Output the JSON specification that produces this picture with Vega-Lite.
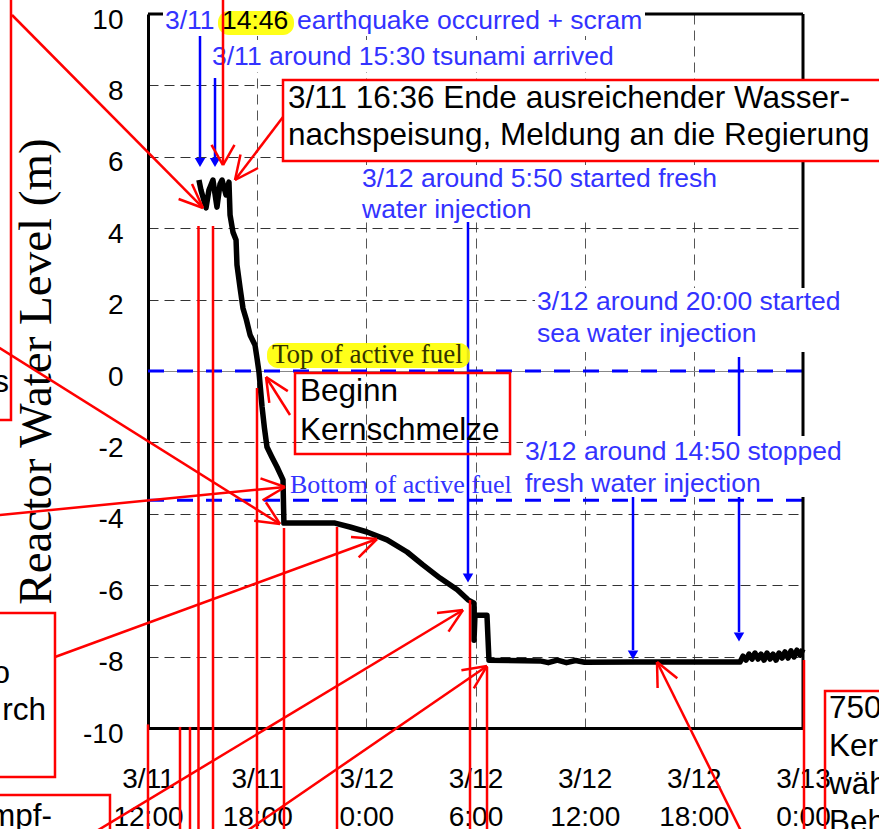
{
  "$schema": "https://vega.github.io/schema/vega-lite/v6.json",
  "width": 655,
  "height": 714,
  "autosize": {"type": "none"},
  "padding": {"left": 148, "top": 14, "right": 76, "bottom": 101},
  "background": "white",
  "config": {"view": {"stroke": null}, "text": {"font": "Liberation Sans"}},
  "encoding": {
    "x": {
      "field": "h", "type": "quantitative",
      "scale": {"domain": [12, 48], "nice": false, "zero": false},
      "axis": {
        "values": [12, 18, 24, 30, 36, 42, 48],
        "labelExpr": "['3/' + (11 + floor(datum.value / 24)), (datum.value % 24) + ':00']",
        "title": null, "ticks": false,
        "labelFont": "Liberation Sans", "labelFontSize": 28, "labelColor": "black",
        "labelPadding": 37, "labelBaseline": "top", "labelLineHeight": 38,
        "labelFlush": false, "labelOverlap": false,
        "domainColor": "black", "domainWidth": 3,
        "grid": true, "gridColor": "#555", "gridDash": [10, 6], "gridWidth": 1, "gridOpacity": 1
      }
    },
    "y": {
      "field": "L", "type": "quantitative",
      "scale": {"domain": [-10, 10], "nice": false, "zero": false},
      "axis": {
        "values": [-10, -8, -6, -4, -2, 0, 2, 4, 6, 8, 10],
        "labelExpr": "'' + datum.value",
        "title": "Reactor Water Level (m)",
        "titleFont": "Liberation Serif", "titleFontSize": 47, "titleFontWeight": "normal",
        "titleColor": "black", "titlePadding": 22,
        "ticks": false,
        "labelFont": "Liberation Sans", "labelFontSize": 28, "labelColor": "black",
        "labelPadding": 25, "labelOffset": 6, "labelFlush": false, "labelOverlap": false,
        "domainColor": "black", "domainWidth": 3,
        "grid": true,
        "gridColor": {"condition": {"test": "datum.value === 0", "value": "#888"}, "value": "#333"},
        "gridDash": {"condition": {"test": "datum.value === 0", "value": []}, "value": [10, 6]},
        "gridWidth": 1, "gridOpacity": 1
      }
    }
  },
  "layer": [
    {
      "data": {"values": [{"h": 12, "h2": 48, "L": 0}, {"h": 12, "h2": 48, "L": -3.62}]},
      "mark": {"type": "rule", "color": "#0000ff", "strokeWidth": 3, "strokeDash": [16, 13]},
      "encoding": {"x2": {"field": "h2"}}
    },
    {
      "data": {"values": [
        {"i": 1, "h": 14.80, "L": 5.35}, {"i": 2, "h": 14.91, "L": 5.07}, {"i": 3, "h": 15.19, "L": 4.57},
        {"i": 4, "h": 15.35, "L": 5.07}, {"i": 5, "h": 15.57, "L": 5.35}, {"i": 6, "h": 15.79, "L": 4.59},
        {"i": 7, "h": 15.96, "L": 5.24}, {"i": 8, "h": 16.07, "L": 5.35}, {"i": 9, "h": 16.29, "L": 4.93},
        {"i": 10, "h": 16.45, "L": 5.29}, {"i": 11, "h": 16.51, "L": 4.37}, {"i": 12, "h": 16.67, "L": 3.89},
        {"i": 13, "h": 16.84, "L": 3.67}, {"i": 14, "h": 16.89, "L": 2.97}, {"i": 15, "h": 17.06, "L": 2.33},
        {"i": 16, "h": 17.22, "L": 1.76}, {"i": 17, "h": 17.40, "L": 1.45}, {"i": 18, "h": 17.61, "L": 1.01},
        {"i": 19, "h": 17.88, "L": 0.73}, {"i": 20, "h": 17.99, "L": 0.36}, {"i": 21, "h": 18.10, "L": -0.03},
        {"i": 22, "h": 18.27, "L": -1.01}, {"i": 23, "h": 18.40, "L": -1.60}, {"i": 24, "h": 18.54, "L": -2.13},
        {"i": 25, "h": 18.80, "L": -2.40}, {"i": 26, "h": 19.09, "L": -2.69}, {"i": 27, "h": 19.42, "L": -3.05},
        {"i": 28, "h": 19.47, "L": -4.26}, {"i": 29, "h": 22.28, "L": -4.26}, {"i": 30, "h": 23.10, "L": -4.37},
        {"i": 31, "h": 24.04, "L": -4.51}, {"i": 32, "h": 25.14, "L": -4.73}, {"i": 33, "h": 26.24, "L": -5.07},
        {"i": 34, "h": 27.11, "L": -5.43}, {"i": 35, "h": 28.05, "L": -5.80}, {"i": 36, "h": 29.00, "L": -6.13},
        {"i": 37, "h": 29.59, "L": -6.41}, {"i": 38, "h": 29.92, "L": -6.50}, {"i": 39, "h": 29.92, "L": -7.54},
        {"i": 40, "h": 29.97, "L": -6.84}, {"i": 41, "h": 30.63, "L": -6.84}, {"i": 42, "h": 30.74, "L": -8.10},
        {"i": 43, "h": 33.55, "L": -8.12}, {"i": 44, "h": 34.00, "L": -8.17}, {"i": 45, "h": 34.50, "L": -8.10},
        {"i": 46, "h": 35.00, "L": -8.17}, {"i": 47, "h": 35.50, "L": -8.11}, {"i": 48, "h": 36.00, "L": -8.16},
        {"i": 49, "h": 38.77, "L": -8.15}, {"i": 50, "h": 44.54, "L": -8.15}, {"i": 51, "h": 44.70, "L": -7.99},
        {"i": 52, "h": 44.87, "L": -8.10}, {"i": 53, "h": 45.03, "L": -7.93}, {"i": 54, "h": 45.20, "L": -8.07},
        {"i": 55, "h": 45.36, "L": -7.90}, {"i": 56, "h": 45.53, "L": -8.07}, {"i": 57, "h": 45.69, "L": -7.93},
        {"i": 58, "h": 45.86, "L": -8.10}, {"i": 59, "h": 46.02, "L": -7.90}, {"i": 60, "h": 46.19, "L": -8.07},
        {"i": 61, "h": 46.35, "L": -7.93}, {"i": 62, "h": 46.52, "L": -8.10}, {"i": 63, "h": 46.68, "L": -7.90},
        {"i": 64, "h": 46.85, "L": -8.04}, {"i": 65, "h": 47.01, "L": -7.87}, {"i": 66, "h": 47.18, "L": -8.04},
        {"i": 67, "h": 47.34, "L": -7.84}, {"i": 68, "h": 47.51, "L": -8.01}, {"i": 69, "h": 47.67, "L": -7.82},
        {"i": 70, "h": 47.84, "L": -7.96}, {"i": 71, "h": 48.00, "L": -7.79}
      ]},
      "mark": {"type": "line", "color": "black", "strokeWidth": 5.5, "strokeJoin": "round"},
      "encoding": {"order": {"field": "i", "type": "quantitative"}}
    },
    {
      "data": {"values": [{"h": 12, "h2": 48, "L": 10, "L2": 10}, {"h": 48, "h2": 48, "L": -10, "L2": 10}]},
      "mark": {"type": "rule", "color": "black", "strokeWidth": 3},
      "encoding": {"x2": {"field": "h2"}, "y2": {"field": "L2"}}
    },
    {
      "data": {"values": [
        {"h": 14.858, "L": 9.496, "L2": 5.91}, {"h": 15.683, "L": 8.207, "L2": 5.91},
        {"h": 29.588, "L": 4.174, "L2": -5.742}, {"h": 38.657, "L": -3.529, "L2": -7.815},
        {"h": 44.483, "L": 0.392, "L2": -7.311}
      ]},
      "mark": {"type": "rule", "color": "#0000ff", "strokeWidth": 2.5},
      "encoding": {"y2": {"field": "L2"}}
    },
    {
      "data": {"values": [
        {"h": 14.858, "L": 5.84}, {"h": 15.683, "L": 5.84}, {"h": 29.588, "L": -5.80},
        {"h": 38.657, "L": -7.955}, {"h": 44.483, "L": -7.451}
      ]},
      "mark": {"type": "point", "shape": "triangle-down", "filled": true, "color": "#0000ff", "size": 110, "opacity": 1}
    },
    {
      "data": {"values": [
        {"h": 12.824, "h2": 39.316, "L": 10.168, "L2": 9.384},
        {"h": 15.408, "h2": 37.833, "L": 9.272, "L2": 8.375},
        {"h": 23.652, "h2": 43.274, "L": 5.77, "L2": 4.174},
        {"h": 33.271, "h2": 50.254, "L": 2.325, "L2": 0.532},
        {"h": 32.611, "h2": 50.144, "L": -1.821, "L2": -3.529}
      ]},
      "mark": {"type": "rect", "fill": "white"},
      "encoding": {"x2": {"field": "h2"}, "y2": {"field": "L2"}}
    },
    {
      "data": {"values": [
        {"h": 15.847, "h2": 20.025, "L": 10.084, "L2": 9.412},
        {"h": 18.541, "h2": 29.698, "L": 0.784, "L2": 0.084}
      ]},
      "mark": {"type": "rect", "fill": "#ffff00", "cornerRadius": 11, "opacity": 0.9},
      "encoding": {"x2": {"field": "h2"}, "y2": {"field": "L2"}}
    },
    {
      "data": {"values": [{"h": 19.42, "h2": 52.508, "L": 8.151, "L2": 5.882}]},
      "mark": {"type": "rect", "fill": "white", "stroke": "#ff0000", "strokeWidth": 2.5},
      "encoding": {"x2": {"field": "h2"}, "y2": {"field": "L2"}}
    },
    {
      "data": {"values": [
        {"h": 20.08, "h2": 31.897, "L": -0.056, "L2": -2.325},
        {"h": 2.766, "h2": 4.47, "L": 10.952, "L2": -1.373},
        {"h": 2.766, "h2": 6.888, "L": -6.779, "L2": -11.373},
        {"h": 2.766, "h2": 9.911, "L": -11.877, "L2": -13.417},
        {"h": 49.21, "h2": 53.333, "L": -8.964, "L2": -14.818}
      ]},
      "mark": {"type": "rect", "fill": "transparent", "stroke": "#ff0000", "strokeWidth": 2.5},
      "encoding": {"x2": {"field": "h2"}, "y2": {"field": "L2"}}
    },
    {
      "data": {"values": [
        {"h": 12.934, "L": 9.58, "t": "3/11"},
        {"h": 20.189, "L": 9.58, "t": "earthquake occurred + scram"},
        {"h": 15.518, "L": 8.571, "t": "3/11 around 15:30 tsunami arrived"},
        {"h": 23.762, "L": 5.154, "t": "3/12 around 5:50 started fresh"},
        {"h": 23.762, "L": 4.286, "t": "water injection"},
        {"h": 33.38, "L": 1.709, "t": "3/12 around 20:00 started"},
        {"h": 33.38, "L": 0.812, "t": "sea water injection"},
        {"h": 32.721, "L": -2.493, "t": "3/12 around 14:50 stopped"},
        {"h": 32.721, "L": -3.389, "t": "fresh water injection"}
      ]},
      "mark": {"type": "text", "font": "Liberation Sans", "fontSize": 26.5, "color": "#3333ff", "align": "left", "baseline": "alphabetic"},
      "encoding": {"text": {"field": "t"}}
    },
    {
      "data": {"values": [{"h": 16.067, "L": 9.58, "t": "14:46"}]},
      "mark": {"type": "text", "font": "Liberation Sans", "fontSize": 26.5, "color": "black", "align": "left", "baseline": "alphabetic"},
      "encoding": {"text": {"field": "t"}}
    },
    {
      "data": {"values": [
        {"h": 19.695, "L": 7.367, "t": "3/11 16:36 Ende ausreichender Wasser-"},
        {"h": 19.695, "L": 6.331, "t": "nachspeisung, Meldung an die Regierung"},
        {"h": 20.354, "L": -0.84, "t": "Beginn"},
        {"h": 20.354, "L": -1.933, "t": "Kernschmelze"},
        {"h": 49.43, "L": -9.72, "t": "750"},
        {"h": 49.43, "L": -10.784, "t": "Ker"},
        {"h": 49.43, "L": -11.849, "t": "wäh"},
        {"h": 49.43, "L": -12.913, "t": "Beh"}
      ]},
      "mark": {"type": "text", "font": "Liberation Sans", "fontSize": 31.5, "color": "black", "align": "left", "baseline": "alphabetic"},
      "encoding": {"text": {"field": "t"}}
    },
    {
      "data": {"values": [
        {"h": 4.36, "L": -0.588, "t": "s"},
        {"h": 4.415, "L": -8.739, "t": "o"},
        {"h": 6.394, "L": -9.776, "t": "rch"},
        {"h": 6.724, "L": -12.745, "t": "mpf-"}
      ]},
      "mark": {"type": "text", "font": "Liberation Sans", "fontSize": 31.5, "color": "black", "align": "right", "baseline": "alphabetic"},
      "encoding": {"text": {"field": "t"}}
    },
    {
      "data": {"values": [{"h": 18.815, "L": 0.224, "t": "Top of active fuel"}]},
      "mark": {"type": "text", "font": "Liberation Serif", "fontSize": 27, "color": "#333300", "align": "left", "baseline": "alphabetic"},
      "encoding": {"text": {"field": "t"}}
    },
    {
      "data": {"values": [{"h": 19.805, "L": -3.417, "t": "Bottom of active fuel"}]},
      "mark": {"type": "text", "font": "Liberation Serif", "fontSize": 26, "color": "#3333ff", "align": "left", "baseline": "alphabetic"},
      "encoding": {"text": {"field": "t"}}
    },
    {
      "data": {"values": [
        {"h": 12.0, "L": -9.9, "h2": 12.0, "L2": -13},
        {"h": 13.759, "L": -9.97, "h2": 13.759, "L2": -13},
        {"h": 14.308, "L": -9.97, "h2": 14.308, "L2": -13},
        {"h": 14.775, "L": 4.062, "h2": 14.775, "L2": -13},
        {"h": 15.573, "L": 4.062, "h2": 15.573, "L2": -13},
        {"h": 17.991, "L": -0.476, "h2": 17.991, "L2": -13},
        {"h": 19.475, "L": -4.398, "h2": 19.475, "L2": -13},
        {"h": 22.388, "L": -4.37, "h2": 22.388, "L2": -13},
        {"h": 29.698, "L": -6.415, "h2": 29.698, "L2": -13},
        {"h": 30.633, "L": -8.291, "h2": 30.633, "L2": -13},
        {"h": 48.055, "L": -8.095, "h2": 48.055, "L2": -13},
        {"h": 4.525, "L": 9.972, "h2": 15.023, "L2": 4.566},
        {"h": 15.023, "L": 4.566, "h2": 14.418, "L2": 5.238},
        {"h": 15.023, "L": 4.566, "h2": 13.682, "L2": 4.818},
        {"h": 16.122, "L": 10.532, "h2": 16.122, "L2": 5.77},
        {"h": 16.122, "L": 5.77, "h2": 15.49, "L2": 6.331},
        {"h": 16.122, "L": 5.77, "h2": 16.754, "L2": 6.331},
        {"h": 19.42, "L": 7.115, "h2": 16.782, "L2": 5.35},
        {"h": 16.782, "L": 5.35, "h2": 18.046, "L2": 5.686},
        {"h": 16.782, "L": 5.35, "h2": 17.084, "L2": 6.062},
        {"h": 3.591, "L": 0.728, "h2": 19.255, "L2": -4.286},
        {"h": 19.255, "L": -4.286, "h2": 18.48, "L2": -3.675},
        {"h": 19.255, "L": -4.286, "h2": 17.837, "L2": -4.196},
        {"h": 3.591, "L": -4.048, "h2": 19.53, "L2": -3.249},
        {"h": 19.53, "L": -3.249, "h2": 18.183, "L2": -3.008},
        {"h": 19.53, "L": -3.249, "h2": 18.299, "L2": -3.622},
        {"h": 6.888, "L": -8.011, "h2": 24.586, "L2": -4.706},
        {"h": 24.586, "L": -4.706, "h2": 23.157, "L2": -4.65},
        {"h": 24.586, "L": -4.706, "h2": 23.581, "L2": -5.221},
        {"h": 8.812, "L": -12.997, "h2": 29.313, "L2": -6.695},
        {"h": 29.313, "L": -6.695, "h2": 27.884, "L2": -6.779},
        {"h": 29.313, "L": -6.695, "h2": 28.516, "L2": -7.3},
        {"h": 17.112, "L": -12.997, "h2": 30.633, "L2": -8.263},
        {"h": 30.633, "L": -8.263, "h2": 29.225, "L2": -8.384},
        {"h": 30.633, "L": -8.263, "h2": 29.907, "L2": -8.891},
        {"h": 44.703, "L": -12.997, "h2": 39.976, "L2": -8.151},
        {"h": 39.976, "L": -8.151, "h2": 40.009, "L2": -8.88},
        {"h": 39.976, "L": -8.151, "h2": 41.092, "L2": -8.605},
        {"h": 19.805, "L": -1.232, "h2": 18.486, "L2": -0.168},
        {"h": 18.486, "L": -0.168, "h2": 18.667, "L2": -0.891},
        {"h": 18.486, "L": -0.168, "h2": 19.684, "L2": -0.563}
      ]},
      "mark": {"type": "rule", "color": "#ff0000", "strokeWidth": 2.5},
      "encoding": {"x2": {"field": "h2"}, "y2": {"field": "L2"}}
    }
  ]
}
